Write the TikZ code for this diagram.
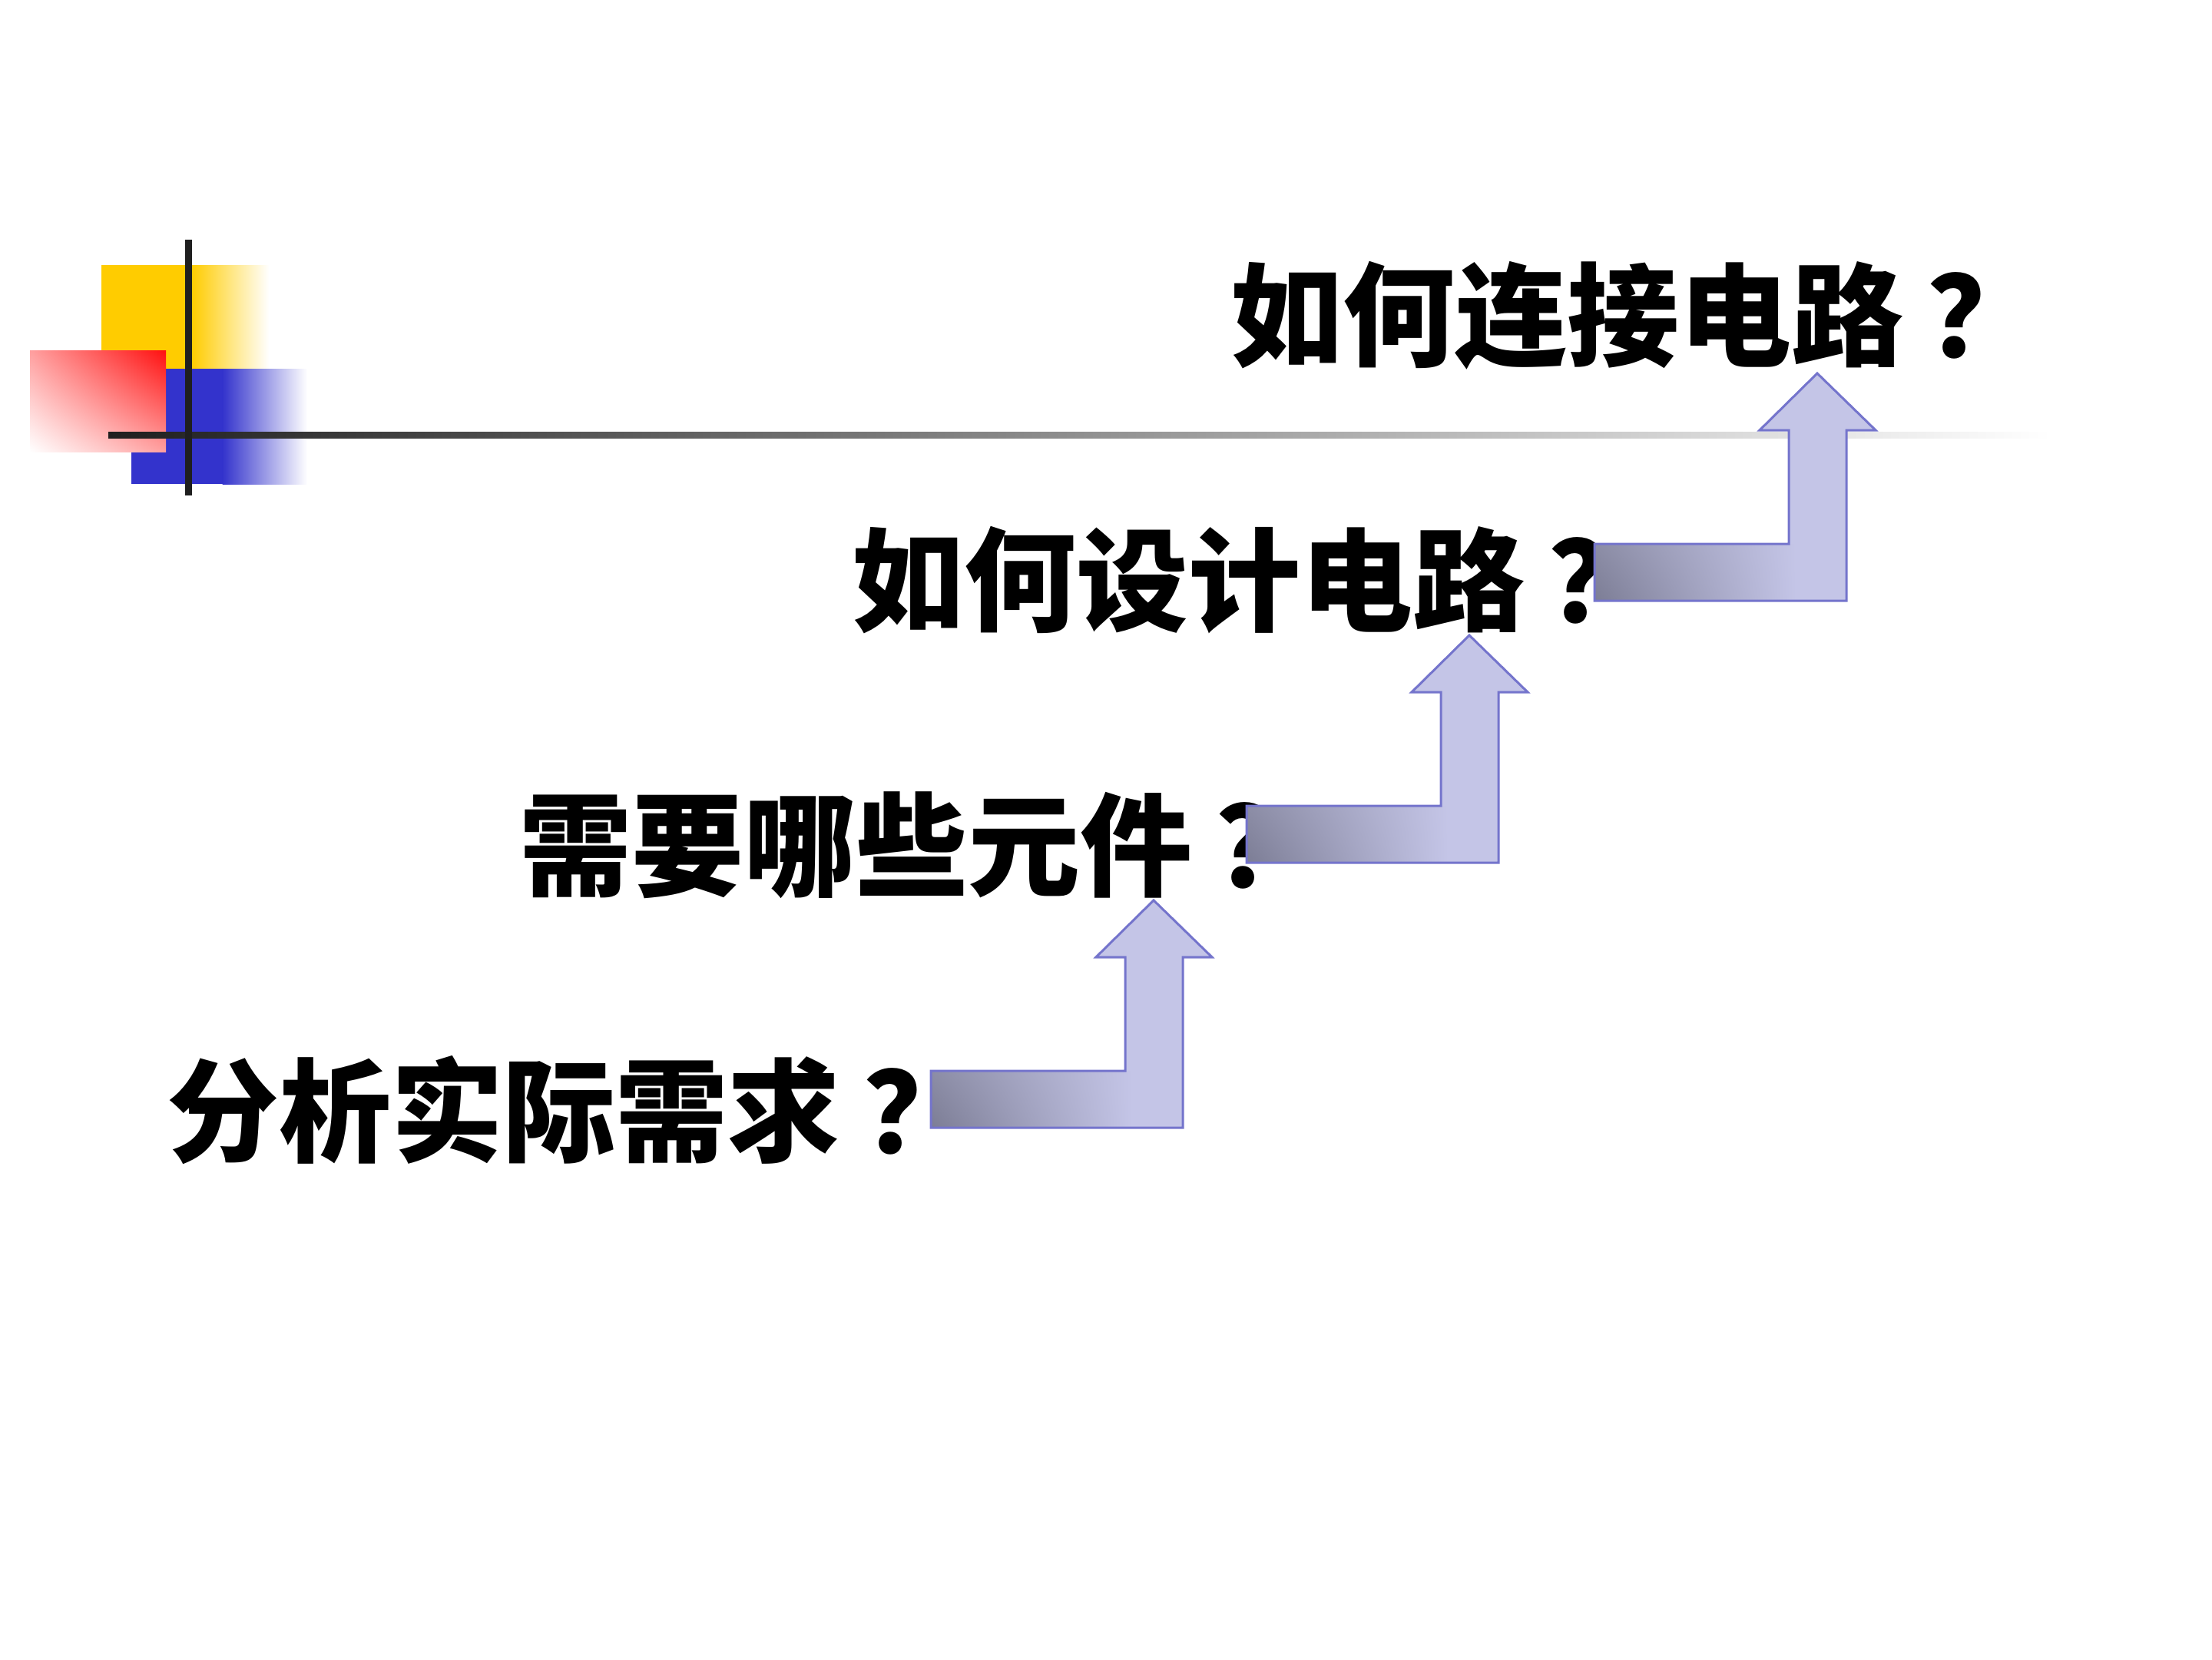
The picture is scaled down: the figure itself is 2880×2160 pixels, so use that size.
\documentclass[tikz,border=0pt]{standalone}
\usepackage{fontspec}
\usetikzlibrary{shadings}
\newfontfamily\cjk{Noto Sans CJK SC}
\definecolor{yellowc}{HTML}{FFCC00}
\definecolor{bluec}{HTML}{3333CC}
\definecolor{redc}{HTML}{FF1010}
\definecolor{linedark}{HTML}{1F1F1F}
\definecolor{lav}{HTML}{C4C5E7}
\definecolor{arrowdark}{HTML}{7C7D95}
\definecolor{arrowdarkup}{HTML}{8C8DA6}
\definecolor{arrowedge}{HTML}{7474CC}
\newcommand\qmark{\hspace{31pt}？}
\newcommand\bentarrow[3]{%
  \fill[lav] (#2,#3) -- ++(328,0) -- ++(0,-222) -- ++(38,0) -- ++(-76,-74) -- ++(-75,74) -- ++(38,0) -- ++(0,148) -- ++(-253,0) -- cycle;
  \shade[lower left=arrowdark, upper left=arrowdarkup, lower right=lav, upper right=lav] (#2,#3) rectangle ++(262,-74);
  \draw[arrowline] (#2,#3) -- ++(328,0) -- ++(0,-222) -- ++(38,0) -- ++(-76,-74) -- ++(-75,74) -- ++(38,0) -- ++(0,148) -- ++(-253,0) -- cycle;
  \coordinate (#1) at (#2+290,#3-296);
}
\begin{document}
\begin{tikzpicture}[x=1pt,y=-1pt,
  title/.style={font=\cjk\bfseries\fontsize{146}{160}\selectfont, anchor=west, inner sep=0pt, text=black},
  arrowline/.style={draw=arrowedge, line width=3pt, line join=miter}]
\fill[white] (0,0) rectangle (2880,2160);
\useasboundingbox (0,0) rectangle (2880,2160);
% decoration
\fill[yellowc] (132,345) rectangle (250,480);
\shade[left color=yellowc, right color=white] (249.5,345) rectangle (350,480);
\fill[bluec] (171,480) rectangle (290,630);
\shade[left color=bluec, right color=white] (289.5,480) rectangle (400,630);
\shade[upper right=redc, lower left=white, upper left=redc!40!white, lower right=redc!40!white] (39,456) rectangle (216,588);
\shade[left color=linedark, right color=white] (141,562) rectangle (2670,570);
\fill[linedark] (241,312) rectangle (250,645);
% texts
\node[title] (q1) at (217,1445) {分析实际需求\qmark};
\node[title] (q2) at (676,1100) {需要哪些元件\qmark};
\node[title] (q3) at (1109,755) {如何设计电路\qmark};
\node[title] (q4) at (1602,411) {如何连接电路\qmark};
% arrows
\bentarrow{a1}{1212}{1468}
\bentarrow{a2}{1623}{1123}
\bentarrow{a3}{2076}{782}
\end{tikzpicture}
\end{document}
